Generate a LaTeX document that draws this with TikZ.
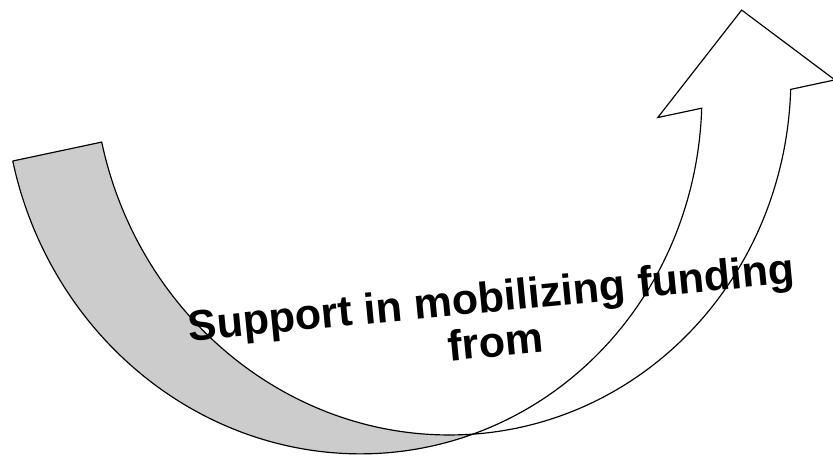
\documentclass[tikz,border=0pt]{standalone}
\usepackage{fontspec}
\setmainfont{Liberation Sans}
\usetikzlibrary{positioning}

\begin{document}
\begin{tikzpicture}[x=0.3mm,y=0.3mm,
  bord/.style={draw=black,line width=1pt,line join=miter},
  dos/.style={bord,fill=gray!40},
  face/.style={bord,fill=white},
  titre/.style={font=\bfseries\fontsize{36.7}{38.2}\selectfont,align=center,inner sep=0pt}]
\useasboundingbox (0,0) rectangle (833,-455);
\clip (0,0) rectangle (833,-455);

\begin{scope}[shift={(12.7,-161)},rotate=12]
\coordinate (queueg) at (0,0);%la queue
\coordinate (queued) at (91,0);
\coordinate (croix) at (393.5,-362.9);%croisement des deux ellipses
\coordinate (pointe) at (744.4,-3.9);%la fleche
\coordinate (barbeg) at (640,-91.6);
\coordinate (barbed) at (821,-91.6);
\coordinate (coing) at (684.9,-91.6);

%le dos (gris)
\draw[dos] (queueg) -- (queued) arc[start angle=180,end angle=262.49,x radius=348,y radius=366]
  arc[start angle=277.51,end angle=180,x radius=348,y radius=366] -- cycle;

%la face (blanche)
\draw[face] (croix) arc[start angle=262.49,end angle=345.5,x radius=348,y radius=366]
  -- (barbed) -- (pointe) -- (barbeg) -- (coing)
  arc[start angle=345.5,end angle=277.51,x radius=348,y radius=366] -- cycle;
\end{scope}

\node[titre,rotate=5.5,anchor=base] (libelle) at (497,-356.6) {Support in mobilizing funding\\from};

\end{tikzpicture}
\end{document}
